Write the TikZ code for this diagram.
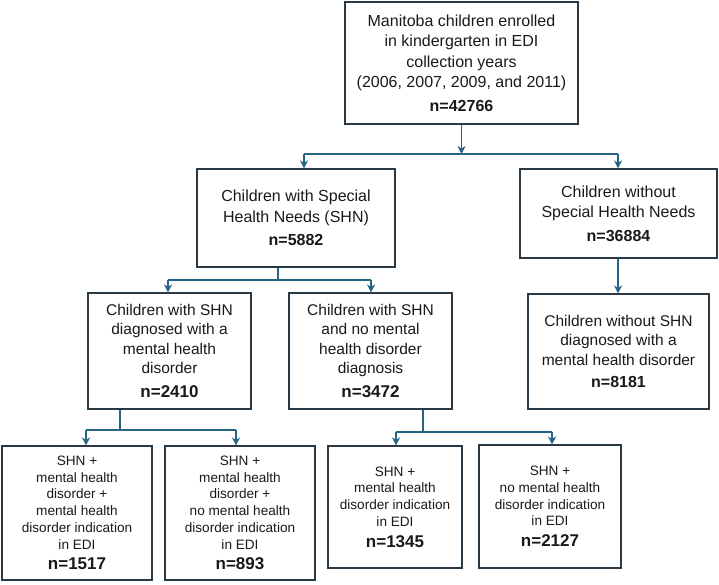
\documentclass[tikz,border=0pt]{standalone}
\usepackage{fontspec}
\setmainfont{Liberation Sans}
\usetikzlibrary{arrows.meta,calc}
\definecolor{linec}{RGB}{36,100,132}
\definecolor{boxc}{RGB}{42,58,68}
\definecolor{txtc}{RGB}{25,25,25}
\tikzset{
  box/.style={draw=boxc, line width=1.1pt, align=center, inner sep=0pt, text=txtc},
  lvA/.style={box, font=\fontsize{16}{20.5}\selectfont},
  lvC/.style={box, font=\fontsize{15.5}{19.3}\selectfont},
  lvD/.style={box, font=\fontsize{13.6}{16.7}\selectfont},
  conn/.style={draw=linec, line width=1.2pt},
  arr/.style={conn, -{Stealth[length=8pt,width=8pt,inset=2.5pt]}},
}
\newcommand{\nlab}[1]{{\fontsize{16}{20}\selectfont\bfseries #1}}
\newcommand{\nlabb}[1]{{\fontsize{17}{20}\selectfont\bfseries #1}}
\begin{document}
\begin{tikzpicture}[x=1pt,y=1pt]
\useasboundingbox (0,0) rectangle (719,-584);
% level 1
\node[lvA, minimum width=233pt, minimum height=122pt] (top) at (461.5,-63)
  {Manitoba children enrolled\\in kindergarten in EDI\\collection years\\(2006, 2007, 2009, and 2011)\\[3pt]\nlab{n=42766}};
% level 2
\node[lvA, minimum width=198pt, minimum height=98pt] (shn) at (296,-218)
  {Children with Special\\Health Needs (SHN)\\[3pt]\nlab{n=5882}};
\node[lvA, minimum width=197pt, minimum height=89pt] (noshn) at (618.5,-213.5)
  {Children without\\Special Health Needs\\[3pt]\nlab{n=36884}};
% level 3
\node[lvC, minimum width=163pt, minimum height=116pt] (d1) at (169.5,-351)
  {Children with SHN\\diagnosed with a\\mental health\\disorder\\[5pt]\nlabb{n=2410}};
\node[lvC, minimum width=163pt, minimum height=116pt] (d2) at (370.5,-351)
  {Children with SHN\\and no mental\\health disorder\\diagnosis\\[5pt]\nlabb{n=3472}};
\node[lvC, minimum width=181pt, minimum height=115pt] (d3) at (618.5,-351.5)
  {Children without SHN\\diagnosed with a\\mental health disorder\\[3pt]\nlab{n=8181}};
% level 4
\node[lvD, minimum width=150pt, minimum height=134pt] (e1) at (77,-513)
  {SHN +\\mental health\\disorder +\\mental health\\disorder indication\\in EDI\\[4pt]\nlabb{n=1517}};
\node[lvD, minimum width=150pt, minimum height=134pt] (e2) at (240,-513)
  {SHN +\\mental health\\disorder +\\no mental health\\disorder indication\\in EDI\\[4pt]\nlabb{n=893}};
\node[lvD, minimum width=134pt, minimum height=122pt] (e3) at (395,-507)
  {SHN +\\mental health\\disorder indication\\in EDI\\[4pt]\nlabb{n=1345}};
\node[lvD, minimum width=142pt, minimum height=123pt] (e4) at (550,-506.5)
  {SHN +\\no mental health\\disorder indication\\in EDI\\[4pt]\nlabb{n=2127}};
% connectors level 1 -> 2
\coordinate (j1) at (461.5,-154);
\coordinate (j1L) at (304,-154);
\coordinate (j1R) at (618,-154);
\draw[arr] (top.south) -- (j1);
\draw[conn] (j1L) -- (j1R);
\draw[arr] (j1L) -- (j1L |- shn.north);
\draw[arr] (j1R) -- (j1R |- noshn.north);
% level 2 -> 3
\coordinate (j2) at (278,-280);
\coordinate (j2L) at (168,-280);
\coordinate (j2R) at (371,-280);
\draw[conn] (j2 |- shn.south) -- (j2);
\draw[conn] (j2L) -- (j2R);
\draw[arr] (j2L) -- (j2L |- d1.north);
\draw[arr] (j2R) -- (j2R |- d2.north);
\draw[arr] (noshn.south -| 618,0) -- (d3.north -| 618,0);
% level 3 -> 4 (left)
\coordinate (j3) at (120,-430);
\coordinate (j3L) at (86,-430);
\coordinate (j3R) at (236,-430);
\draw[conn] (j3 |- d1.south) -- (j3);
\draw[conn] (j3L) -- (j3R);
\draw[arr] (j3L) -- (j3L |- e1.north);
\draw[arr] (j3R) -- (j3R |- e2.north);
% level 3 -> 4 (right)
\coordinate (j4) at (423,-432);
\coordinate (j4L) at (396,-432);
\coordinate (j4R) at (552,-432);
\draw[conn] (j4 |- d2.south) -- (j4);
\draw[conn] (j4L) -- (j4R);
\draw[arr] (j4L) -- (j4L |- e3.north);
\draw[arr] (j4R) -- (j4R |- e4.north);
\end{tikzpicture}
\end{document}
